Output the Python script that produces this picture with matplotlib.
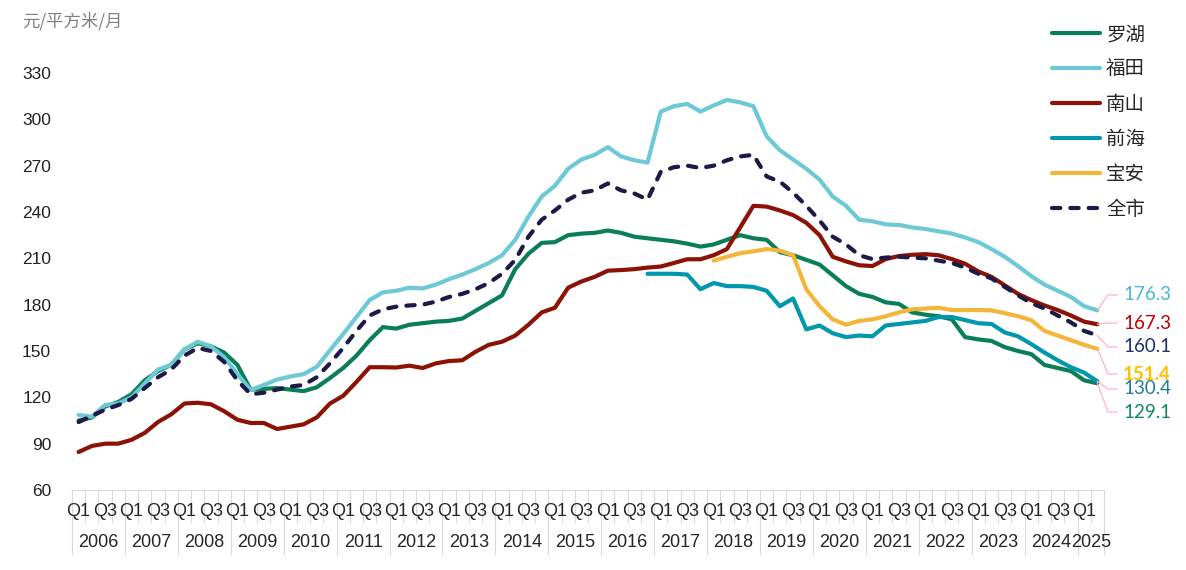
import numpy as np
import matplotlib
matplotlib.use("Agg")
import matplotlib.pyplot as plt

# quarterly rent, 2006Q1 .. 2025Q2 (78 quarters)
years = list(range(2006, 2026))
n_quarters = 78

luohu = [105, 107, 114, 117, 122, 131, 137, 141, 151, 155, 153, 149, 141, 125, 125.5, 126,
         125, 124, 126.5, 132.5, 139, 147, 157, 165.5, 164.5, 167, 168, 169, 169.5, 171, 176, 181,
         186, 203, 213, 220, 220.5, 225, 226, 226.5, 228, 226.5, 224, 223, 222, 221, 219.5, 217.6,
         219, 222, 225, 223, 222, 214, 212, 209, 206, 199, 192, 187, 185, 181.5, 180.5, 175,
         173.5, 172.5, 170.5, 159, 157.5, 156.5, 152.5, 150, 148, 141, 139, 137, 131, 129.1]
futian = [108.6, 107.5, 115, 116, 120, 129, 138, 141, 151, 156, 153, 146, 135, 124.7, 128, 131.5,
          133.5, 135, 139.8, 150.5, 161, 172, 183, 188, 189, 191, 190.5, 193, 196.5, 199.5, 203, 207,
          212, 222, 237, 250, 257, 268, 274, 277, 282, 276, 273.5, 272, 305, 308.5, 310, 305,
          309, 312.5, 311, 308.5, 289, 280, 274, 268, 261, 250, 244, 235, 234, 232, 231.6, 230,
          229, 227.5, 226, 223.5, 220.5, 216, 211, 205, 198.5, 193, 189, 185, 179, 176.3]
nanshan = [84.6, 88.5, 90, 90, 92.5, 97, 104, 109, 116, 116.5, 115.5, 111, 105.5, 103.4, 103.4, 99.5,
           101, 102.5, 107, 116, 121, 130, 139.5, 139.5, 139.3, 140.5, 139, 142, 143.5, 144, 149.5, 154,
           156, 160, 167, 175, 178, 191, 195, 198, 202, 202.4, 203, 204, 204.7, 207, 209.4, 209.4,
           212, 216, 230, 244, 243.5, 241, 238, 233, 225, 211, 208, 205.5, 205, 209.5, 211.5, 212.3,
           212.7, 212, 209.5, 206.5, 201.5, 198, 192.5, 187, 183, 179.5, 176.5, 173, 169, 167.3]
# 前海 starts 2016Q4, 宝安 starts 2018Q1
qianhai = [np.nan] * 43 + [200, 200, 200, 199.5, 190, 194, 192, 192, 191.5, 189, 179, 184, 164,
                           166.5, 161.5, 159, 160, 159.5, 166.5, 167.5, 168.5, 169.5, 172, 172, 170,
                           168, 167.5, 162, 159.5, 154.5, 149, 144, 139.5, 136, 130.4]
baoan = [np.nan] * 48 + [208.5, 211, 213.3, 214.5, 216, 215, 212, 190, 179, 170.5, 167, 169.5,
                         170.5, 172.5, 175, 177, 177.5, 178, 176.5, 176.5, 176.5, 176.3, 174.5,
                         172.5, 170, 163, 160, 157, 154, 151.4]
citywide = [104, 108, 112, 115, 119, 126, 133, 138, 147, 152, 150, 143, 131, 122, 123, 125,
            127, 128, 133, 142, 152, 163, 173, 177, 178.7, 179.5, 180, 182, 185, 187, 190, 194,
            200, 209, 224, 235, 241, 248, 252.5, 254, 258.5, 254, 252, 248, 266, 269, 270, 268.5,
            270, 273.5, 276, 277, 263, 259.7, 252.5, 244, 234.5, 224, 219, 212, 209.5, 210.5, 211, 210.5,
            210, 208.5, 207, 204, 200, 197, 191.5, 186, 181, 177.5, 173, 168.5, 163, 160.1]

series = [
    ("罗湖", luohu, "#0A7F57", "-"),
    ("福田", futian, "#6DC9D6", "-"),
    ("南山", nanshan, "#8B1306", "-"),
    ("前海", qianhai, "#0097AF", "-"),
    ("宝安", baoan, "#F3B53A", "-"),
    ("全市", citywide, "#1E1A48", "--"),
]

# end labels: text, colour, bold, label y (data units)
end_labels = {
    "福田": ("176.3", "#4AB8CF", False, 186.3),
    "南山": ("167.3", "#C00000", False, 168.1),
    "全市": ("160.1", "#1F3070", False, 152.6),
    "宝安": ("151.4", "#FFC000", True, 135.1),
    "前海": ("130.4", "#23799A", False, 125.4),
    "罗湖": ("129.1", "#0F8A5F", False, 110.5),
}

fig = plt.figure(figsize=(11.86, 5.7), dpi=100)
ax = fig.add_axes([72 / 1186, 80 / 570, 1032 / 1186, 417 / 570])

x = np.arange(n_quarters)
for name, vals, color, ls in series:
    line, = ax.plot(x, vals, color=color, lw=3, label=name, solid_capstyle="round",
                    solid_joinstyle="round", dash_capstyle="round")
    if ls == "--":
        line.set_dashes((2.0, 2.4))

# leader lines + value labels at the right end
for name, vals, color, ls in series:
    txt, tcolor, bold, ly = end_labels[name]
    last = vals[-1]
    ax.plot([x[-1], 77.8, 78.5], [last, ly, ly], color="#FFB3C1", lw=0.9, clip_on=False)
    ax.text(78.95, ly, txt, color=tcolor, fontsize=13.5, family="Lato",
            fontweight="bold" if bold else "normal", ha="left", va="center")

ax.set_xlim(-0.5, n_quarters - 0.5)
ax.set_ylim(60, 330)
ax.set_yticks(np.arange(60, 331, 30))
ax.tick_params(axis="y", length=0, pad=15, labelsize=12.5, labelcolor="#222222")
for lab in ax.get_yticklabels():
    lab.set_family("Liberation Sans")

# multi-level category axis: quarter boundaries and year boundaries
year_edges = list(np.arange(-0.5, n_quarters - 1, 4)) + [n_quarters - 0.5]
ax.set_xticks(year_edges)
ax.set_xticks(np.arange(-0.5, n_quarters, 1), minor=True)
ax.set_xticklabels([])
ax.tick_params(axis="x", which="major", length=47, width=0.8, color="#D9D9D9")
ax.tick_params(axis="x", which="minor", length=24, width=0.8, color="#D9D9D9")

trans = ax.get_xaxis_transform()
for i in range(n_quarters):
    q = i % 4
    if q in (0, 2):
        ax.text(i, -0.052, "Q%d" % (q + 1), transform=trans, ha="center", va="center",
                fontsize=13, family="Liberation Sans", color="#262626")
for k, yr in enumerate(years):
    start = 4 * k
    end = min(start + 4, n_quarters)
    ax.text((start + end - 1) / 2, -0.127, str(yr), transform=trans, ha="center", va="center",
            fontsize=13, family="Liberation Sans", color="#262626")

for side in ("top", "right", "left"):
    ax.spines[side].set_visible(False)
ax.spines["bottom"].set_color("#D9D9D9")
ax.spines["bottom"].set_linewidth(0.8)

fig.text(22 / 1186, 1 - 21 / 570, "元/平方米/月", fontsize=12.5, color="#808080",
         family=["Noto Sans CJK SC", "DejaVu Sans"], ha="left", va="center")

ax.legend(loc="upper left", bbox_to_anchor=(1052 / 1186, 1 - 24 / 570),
          bbox_transform=fig.transFigure, frameon=False, borderpad=0, borderaxespad=0,
          handlelength=2.47, handletextpad=0.31, labelspacing=0.72,
          prop={"family": "Noto Sans CJK SC", "size": 14}, labelcolor="#262626")

fig.savefig("out.png", dpi=100)
